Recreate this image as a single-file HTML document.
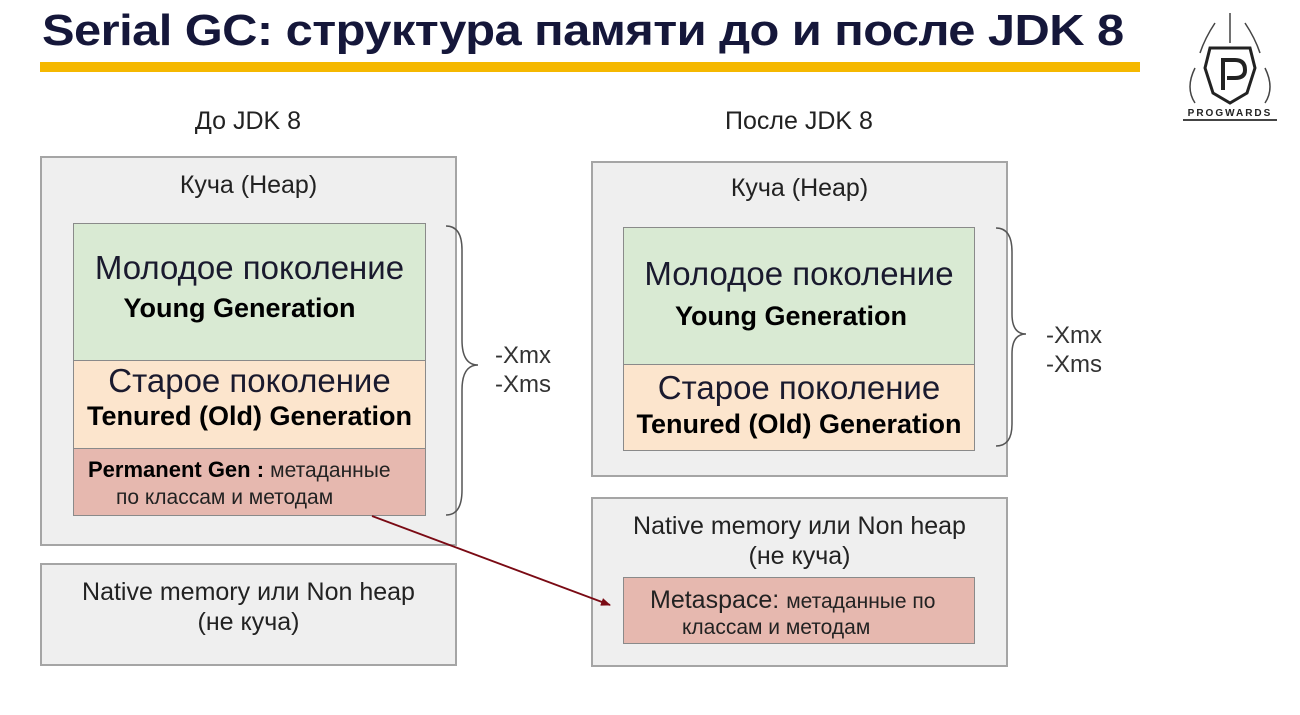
<!DOCTYPE html>
<html><head><meta charset="utf-8"><style>
body{margin:0;width:1300px;height:715px;background:#fff;position:relative;overflow:hidden;font-family:"Liberation Sans",sans-serif;}
.a{position:absolute;box-sizing:border-box;}
.box{background:#efefef;border:2px solid #a5a5a5;}
.t{position:absolute;text-align:center;color:#222;white-space:nowrap;}
.g{background:#d9ead3;border:1.5px solid #8a8a8a;}
.p{background:#fce5cd;border:1.5px solid #8a8a8a;}
.r{background:#e6b8af;border:1.5px solid #8a8a8a;}
b{color:#000;}
</style></head><body>
<div class="a" style="left:42px;top:6px;font-size:44px;font-weight:bold;color:#15173a;letter-spacing:-0.5px;transform:scaleX(1.11);transform-origin:0 0;white-space:nowrap;">Serial GC: структура памяти до и после JDK 8</div>
<div class="a" style="left:40px;top:62px;width:1100px;height:10px;background:#f5b800;"></div>
<svg class="a" style="left:1175px;top:8px" width="110" height="120" viewBox="0 0 110 120">
<path d="M35 40 L75 40 L80 60 L72 85 L55 95 L38 85 L30 60 Z" fill="none" stroke="#222" stroke-width="3"/>
<path d="M48 82 L48 52 L60 52 Q70 52 70 62 Q70 70 60 70 L52 70" fill="none" stroke="#222" stroke-width="4"/>
<path d="M55 5 L55 35 M40 15 Q30 30 25 45 M70 15 Q80 30 85 45 M20 60 Q10 80 20 95 M90 60 Q100 80 90 95" fill="none" stroke="#444" stroke-width="1.5"/>
<text x="55" y="108" font-size="10" font-weight="bold" text-anchor="middle" fill="#222" font-family="Liberation Sans" letter-spacing="2">PROGWARDS</text>
<rect x="8" y="111" width="94" height="2" fill="#444"/>
</svg>
<div class="t" style="left:40px;width:416px;top:107px;font-size:25px;">До JDK 8</div>
<div class="t" style="left:591px;width:416px;top:107px;font-size:25px;">После JDK 8</div>

<div class="a box" style="left:40px;top:156px;width:417px;height:390px;"></div>
<div class="t" style="left:40px;width:417px;top:171px;font-size:25px;">Куча (Heap)</div>
<div class="a g" style="left:73px;top:223px;width:353px;height:138px;"></div>
<div class="t" style="left:73px;width:353px;top:249px;font-size:33px;color:#1a1a2e;">Молодое поколение</div>
<div class="t" style="left:63px;width:353px;top:293px;font-size:27px;"><b>Young Generation</b></div>
<div class="a p" style="left:73px;top:360px;width:353px;height:89px;"></div>
<div class="t" style="left:73px;width:353px;top:362px;font-size:33px;color:#1a1a2e;">Старое поколение</div>
<div class="t" style="left:73px;width:353px;top:401px;font-size:27px;"><b>Tenured (Old) Generation</b></div>
<div class="a r" style="left:73px;top:448px;width:353px;height:68px;"></div>
<div class="a" style="left:88px;top:457px;font-size:22px;color:#222;white-space:nowrap;"><b>Permanent Gen :</b> <span style="font-size:21px">метаданные</span></div>
<div class="a" style="left:116px;top:486px;font-size:21px;color:#222;white-space:nowrap;">по классам и методам</div>
<svg class="a" style="left:440px;top:220px" width="60" height="300"><path d="M6 6 Q22 6 22 30 L22 120 Q22 145 38 145 Q22 145 22 170 L22 270 Q22 295 6 295" fill="none" stroke="#555" stroke-width="1.5"/></svg>
<div class="a" style="left:495px;top:341px;font-size:24px;color:#333;line-height:29px;">-Xmx<br>-Xms</div>
<div class="a box" style="left:40px;top:563px;width:417px;height:103px;"></div>
<div class="t" style="left:40px;width:417px;top:577px;font-size:25px;line-height:30px;">Native memory или Non heap<br>(не куча)</div>

<div class="a box" style="left:591px;top:161px;width:417px;height:316px;"></div>
<div class="t" style="left:591px;width:417px;top:174px;font-size:25px;">Куча (Heap)</div>
<div class="a g" style="left:623px;top:227px;width:352px;height:138px;"></div>
<div class="t" style="left:623px;width:352px;top:255px;font-size:33px;color:#1a1a2e;">Молодое поколение</div>
<div class="t" style="left:615px;width:352px;top:301px;font-size:27px;"><b>Young Generation</b></div>
<div class="a p" style="left:623px;top:364px;width:352px;height:87px;"></div>
<div class="t" style="left:623px;width:352px;top:369px;font-size:33px;color:#1a1a2e;">Старое поколение</div>
<div class="t" style="left:623px;width:352px;top:409px;font-size:27px;"><b>Tenured (Old) Generation</b></div>
<svg class="a" style="left:990px;top:224px" width="60" height="230"><path d="M6 4 Q22 4 22 28 L22 90 Q22 110 36 110 Q22 110 22 130 L22 200 Q22 222 6 222" fill="none" stroke="#555" stroke-width="1.5"/></svg>
<div class="a" style="left:1046px;top:321px;font-size:24px;color:#333;line-height:29px;">-Xmx<br>-Xms</div>
<div class="a box" style="left:591px;top:497px;width:417px;height:170px;"></div>
<div class="t" style="left:591px;width:417px;top:511px;font-size:25px;line-height:30px;">Native memory или Non heap<br>(не куча)</div>
<div class="a r" style="left:623px;top:577px;width:352px;height:67px;"></div>
<div class="a" style="left:650px;top:586px;font-size:25px;color:#222;white-space:nowrap;">Metaspace: <span style="font-size:21px">метаданные по</span></div>
<div class="a" style="left:682px;top:616px;font-size:21px;color:#222;white-space:nowrap;">классам и методам</div>

<svg class="a" style="left:0;top:0" width="1300" height="715"><defs><marker id="m" markerWidth="10" markerHeight="8" refX="9" refY="4" orient="auto" markerUnits="userSpaceOnUse"><path d="M0 0 L10 4 L0 8Z" fill="#7a0a14"/></marker></defs>
<line x1="372" y1="516" x2="610" y2="605" stroke="#7a0a14" stroke-width="1.8" marker-end="url(#m)"/></svg>
</body></html>
